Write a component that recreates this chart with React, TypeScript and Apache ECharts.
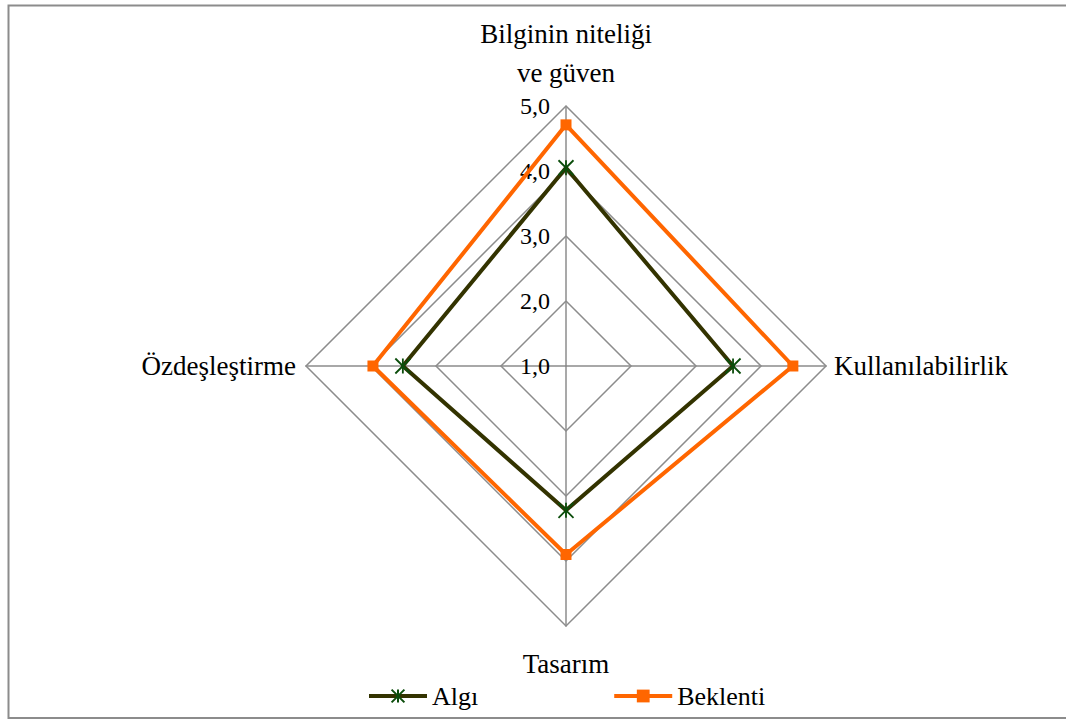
import React, { useEffect, useRef } from "react";
import * as echarts from "echarts";

const indicatorNames = ["Bilginin niteliği\nve güven", "Özdeşleştirme", "Tasarım", "Kullanılabilirlik"];
const nameGaps = [14, 10, 18, 8];
const algiValues = [4.05, 3.51, 3.22, 3.57];
const beklentiValues = [4.71, 3.97, 3.9, 4.49];
const seriesNames = ["Algı", "Beklenti"];
const axisMin = 1;
const axisMax = 5;

const FONT = "Liberation Serif";
const ASTERISK = "path://M0,0L10,10M10,0L0,10M5,0L5,10";

export default function App() {
  const ref = useRef<HTMLDivElement>(null);
  useEffect(() => {
    if (!ref.current) return;
    const chart = echarts.init(ref.current, null, { renderer: "svg" });
    const algiStyle = {
      symbol: ASTERISK,
      symbolSize: 15,
      lineStyle: { color: "#333300", width: 4 },
      itemStyle: { color: "#0b4d0b", borderColor: "#0b4d0b", borderWidth: 1.8 },
    };
    const bekStyle = {
      symbol: "rect",
      symbolSize: 11,
      lineStyle: { color: "#ff6600", width: 4 },
      itemStyle: { color: "#ff6600" },
    };
    chart.setOption({
      animation: false,
      backgroundColor: "#ffffff",
      textStyle: { fontFamily: FONT },
      graphic: [
        {
          type: "rect",
          shape: { x: 8.5, y: 5.5, width: 1070, height: 712.5 },
          style: { fill: "none", stroke: "#8c8c8c", lineWidth: 2 },
          silent: true,
        },
      ],
      legend: {
        data: seriesNames,
        left: 362,
        top: 678,
        itemWidth: 58,
        itemHeight: 16,
        itemGap: 134,
        lineStyle: { width: 4 },
        textStyle: { fontFamily: FONT, fontSize: 26, color: "#000" },
      },
      grid: { show: false, left: 0, top: 0, width: 10, height: 10 },
      xAxis: { type: "value", show: false },
      yAxis: { type: "value", show: false },
      radar: {
        center: [566, 366],
        radius: 260,
        startAngle: 90,
        shape: "polygon",
        splitNumber: 4,
        axisName: {
          color: "#000",
          fontFamily: FONT,
          fontSize: 27,
          lineHeight: 39,
        },
        axisLine: { lineStyle: { color: "#8c8c8c", width: 1.5 } },
        splitLine: { lineStyle: { color: "#8c8c8c", width: 1.5 } },
        splitArea: { show: false },
        axisTick: { show: false },
        axisLabel: {
          show: false,
          color: "#000",
          fontFamily: FONT,
          fontSize: 24,
          margin: 16,
          formatter: (v: number) => v.toFixed(1).replace(".", ","),
        },
        indicator: indicatorNames.map((n, i) => ({
          name: n,
          min: axisMin,
          max: axisMax,
          nameGap: nameGaps[i],
          axisLabel: { show: i === 0 },
        })),
      },
      series: [
        { type: "line", name: seriesNames[0], data: [], ...algiStyle },
        { type: "line", name: seriesNames[1], data: [], ...bekStyle },
        {
          type: "radar",
          data: [
            { name: seriesNames[0], value: algiValues, ...algiStyle },
            { name: seriesNames[1], value: beklentiValues, ...bekStyle },
          ],
        },
      ],
    });
    return () => chart.dispose();
  }, []);
  return (
    <div
      ref={ref}
      style={{ position: "absolute", left: 0, top: 0, width: 1066, height: 720 }}
    />
  );
}
